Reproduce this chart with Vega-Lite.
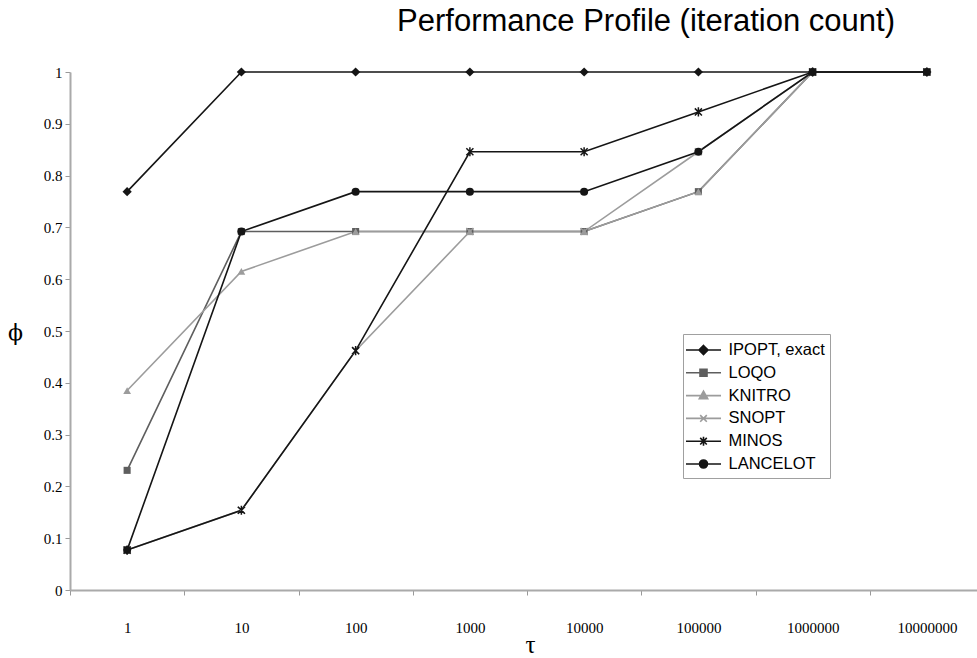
{
  "$schema": "https://vega.github.io/schema/vega-lite/v6.json",
  "width": 907,
  "height": 518,
  "autosize": {"type": "none"},
  "padding": {"left": 70, "top": 72, "right": 0, "bottom": 68},
  "background": "white",
  "title": {
    "text": "Performance Profile (iteration count)",
    "font": "Liberation Sans",
    "fontSize": 31,
    "fontWeight": "normal",
    "color": "#000000",
    "anchor": "end",
    "frame": "group",
    "dx": -82,
    "offset": 2,
    "baseline": "alphabetic"
  },
  "config": {"view": {"stroke": null}},
  "data": {
    "values": [
      {"series": "IPOPT, exact", "tau": 1, "phi": 0.769},
      {"series": "IPOPT, exact", "tau": 10, "phi": 1},
      {"series": "IPOPT, exact", "tau": 100, "phi": 1},
      {"series": "IPOPT, exact", "tau": 1000, "phi": 1},
      {"series": "IPOPT, exact", "tau": 10000, "phi": 1},
      {"series": "IPOPT, exact", "tau": 100000, "phi": 1},
      {"series": "IPOPT, exact", "tau": 1000000, "phi": 1},
      {"series": "IPOPT, exact", "tau": 10000000, "phi": 1},
      {"series": "LOQO", "tau": 1, "phi": 0.231},
      {"series": "LOQO", "tau": 10, "phi": 0.692},
      {"series": "LOQO", "tau": 100, "phi": 0.692},
      {"series": "LOQO", "tau": 1000, "phi": 0.692},
      {"series": "LOQO", "tau": 10000, "phi": 0.692},
      {"series": "LOQO", "tau": 100000, "phi": 0.769},
      {"series": "LOQO", "tau": 1000000, "phi": 1},
      {"series": "LOQO", "tau": 10000000, "phi": 1},
      {"series": "KNITRO", "tau": 1, "phi": 0.385},
      {"series": "KNITRO", "tau": 10, "phi": 0.615},
      {"series": "KNITRO", "tau": 100, "phi": 0.692},
      {"series": "KNITRO", "tau": 1000, "phi": 0.692},
      {"series": "KNITRO", "tau": 10000, "phi": 0.692},
      {"series": "KNITRO", "tau": 100000, "phi": 0.769},
      {"series": "KNITRO", "tau": 1000000, "phi": 1},
      {"series": "KNITRO", "tau": 10000000, "phi": 1},
      {"series": "SNOPT", "tau": 1, "phi": 0.077},
      {"series": "SNOPT", "tau": 10, "phi": 0.154},
      {"series": "SNOPT", "tau": 100, "phi": 0.462},
      {"series": "SNOPT", "tau": 1000, "phi": 0.692},
      {"series": "SNOPT", "tau": 10000, "phi": 0.692},
      {"series": "SNOPT", "tau": 100000, "phi": 0.846},
      {"series": "SNOPT", "tau": 1000000, "phi": 1},
      {"series": "SNOPT", "tau": 10000000, "phi": 1},
      {"series": "MINOS", "tau": 1, "phi": 0.077},
      {"series": "MINOS", "tau": 10, "phi": 0.154},
      {"series": "MINOS", "tau": 100, "phi": 0.462},
      {"series": "MINOS", "tau": 1000, "phi": 0.846},
      {"series": "MINOS", "tau": 10000, "phi": 0.846},
      {"series": "MINOS", "tau": 100000, "phi": 0.923},
      {"series": "MINOS", "tau": 1000000, "phi": 1},
      {"series": "MINOS", "tau": 10000000, "phi": 1},
      {"series": "LANCELOT", "tau": 1, "phi": 0.077},
      {"series": "LANCELOT", "tau": 10, "phi": 0.692},
      {"series": "LANCELOT", "tau": 100, "phi": 0.769},
      {"series": "LANCELOT", "tau": 1000, "phi": 0.769},
      {"series": "LANCELOT", "tau": 10000, "phi": 0.769},
      {"series": "LANCELOT", "tau": 100000, "phi": 0.846},
      {"series": "LANCELOT", "tau": 1000000, "phi": 1},
      {"series": "LANCELOT", "tau": 10000000, "phi": 1}
    ]
  },
  "encoding": {
    "x": {
      "field": "tau",
      "type": "ordinal",
      "scale": {"type": "band", "paddingInner": 0, "paddingOuter": 0, "range": [0, 914]},
      "axis": {
        "title": "τ",
        "titleFont": "Liberation Serif",
        "titleFontSize": 25,
        "titleFontWeight": "normal",
        "titleColor": "#000000",
        "titleX": 460,
        "titleY": 62,
        "titleAlign": "center",
        "titleBaseline": "alphabetic",
        "labelAngle": 0,
        "labelFont": "Liberation Serif",
        "labelFontSize": 15,
        "labelColor": "#000000",
        "labelBaseline": "middle",
        "labelPadding": 32,
        "tickBand": "extent",
        "tickSize": 5,
        "tickColor": "#999999",
        "tickWidth": 1,
        "domainColor": "#aaaaaa",
        "domainWidth": 2,
        "grid": false
      }
    },
    "y": {
      "field": "phi",
      "type": "quantitative",
      "scale": {"domain": [0, 1], "nice": false, "zero": true},
      "axis": {
        "title": "ϕ",
        "titleAngle": 0,
        "titleFont": "DejaVu Serif",
        "titleFontSize": 22,
        "titleFontWeight": "normal",
        "titleColor": "#000000",
        "titleX": -55,
        "titleY": 260,
        "titleAlign": "center",
        "titleBaseline": "middle",
        "values": [0, 0.1, 0.2, 0.3, 0.4, 0.5, 0.6, 0.7, 0.8, 0.9, 1],
        "format": ".1~f",
        "labelFont": "Liberation Serif",
        "labelFontSize": 15,
        "labelColor": "#000000",
        "labelPadding": 3,
        "tickSize": 5,
        "tickColor": "#999999",
        "tickWidth": 1,
        "domainColor": "#aaaaaa",
        "domainWidth": 2,
        "grid": false
      }
    }
  },
  "layer": [
    {
      "mark": {"type": "line", "strokeWidth": 1.6},
      "encoding": {
        "stroke": {
          "field": "series",
          "type": "nominal",
          "scale": {
            "domain": ["IPOPT, exact", "LOQO", "KNITRO", "SNOPT", "MINOS", "LANCELOT"],
            "range": ["#151515", "#5e5e5e", "#9c9c9c", "#9c9c9c", "#151515", "#151515"]
          },
          "legend": {"title": null, "orient": "none", "legendX": 613, "legendY": 262, "symbolOpacity": 1}
        }
      }
    },
    {
      "transform": [{"filter": "datum.series === 'IPOPT, exact'"}],
      "mark": {"type": "point", "shape": "diamond", "filled": true, "size": 85, "color": "#151515", "opacity": 1}
    },
    {
      "transform": [{"filter": "datum.series === 'LOQO'"}],
      "mark": {"type": "point", "shape": "square", "filled": true, "size": 50, "color": "#5e5e5e", "opacity": 1}
    },
    {
      "transform": [{"filter": "datum.series === 'KNITRO'"}],
      "mark": {"type": "point", "shape": "triangle-up", "filled": true, "size": 60, "color": "#9c9c9c", "opacity": 1}
    },
    {
      "transform": [{"filter": "datum.series === 'SNOPT'"}],
      "mark": {"type": "point", "shape": "M-1,-1L1,1M-1,1L1,-1", "filled": false, "size": 50, "strokeWidth": 1.4, "color": "#9c9c9c", "opacity": 1}
    },
    {
      "transform": [{"filter": "datum.series === 'MINOS'"}],
      "mark": {"type": "point", "shape": "M-1,-1L1,1M-1,1L1,-1M0,-1.3V1.3", "filled": false, "size": 50, "strokeWidth": 1.5, "color": "#151515", "opacity": 1}
    },
    {
      "transform": [{"filter": "datum.series === 'LANCELOT'"}],
      "mark": {"type": "point", "shape": "circle", "filled": true, "size": 65, "color": "#151515", "opacity": 1}
    },
    {
      "mark": {"type": "point", "filled": true, "opacity": 0},
      "encoding": {
        "fill": {
          "field": "series",
          "type": "nominal",
          "scale": {
            "domain": ["IPOPT, exact", "LOQO", "KNITRO", "SNOPT", "MINOS", "LANCELOT"],
            "range": ["#151515", "#5e5e5e", "#9c9c9c", "transparent", "transparent", "#151515"]
          },
          "legend": {
            "title": null,
            "orient": "none",
            "legendX": 613,
            "legendY": 262,
            "strokeColor": "#a0a0a0",
            "fillColor": "white",
            "padding": 5,
            "rowPadding": 2.8,
            "labelFont": "Liberation Sans",
            "labelFontSize": 16.5,
            "labelColor": "#000000",
            "labelOffset": 14,
            "symbolOffset": 4.5,
            "symbolSize": 400,
            "symbolStrokeWidth": 1.6,
            "symbolOpacity": 1
          }
        },
        "stroke": {
          "field": "series",
          "type": "nominal",
          "legend": {"title": null, "orient": "none", "legendX": 613, "legendY": 262, "symbolOpacity": 1}
        },
        "shape": {
          "field": "series",
          "type": "nominal",
          "scale": {
            "domain": ["IPOPT, exact", "LOQO", "KNITRO", "SNOPT", "MINOS", "LANCELOT"],
            "range": [
              "M-1.75,0H1.75M0,-0.45L0.45,0L0,0.45L-0.45,0Z",
              "M-1.75,0H1.75M-0.35,-0.35H0.35V0.35H-0.35Z",
              "M-1.75,0H1.75M0,-0.45L0.42,0.32H-0.42Z",
              "M-1.75,0H1.75M-0.33,-0.33L0.33,0.33M-0.33,0.33L0.33,-0.33",
              "M-1.75,0H1.75M-0.33,-0.33L0.33,0.33M-0.33,0.33L0.33,-0.33M0,-0.45V0.45",
              "M-1.75,0H1.75M0.4,0A0.4,0.4 0 1 1 -0.4,0A0.4,0.4 0 1 1 0.4,0Z"
            ]
          },
          "legend": {"title": null, "orient": "none", "legendX": 613, "legendY": 262, "symbolOpacity": 1}
        }
      }
    }
  ]
}
